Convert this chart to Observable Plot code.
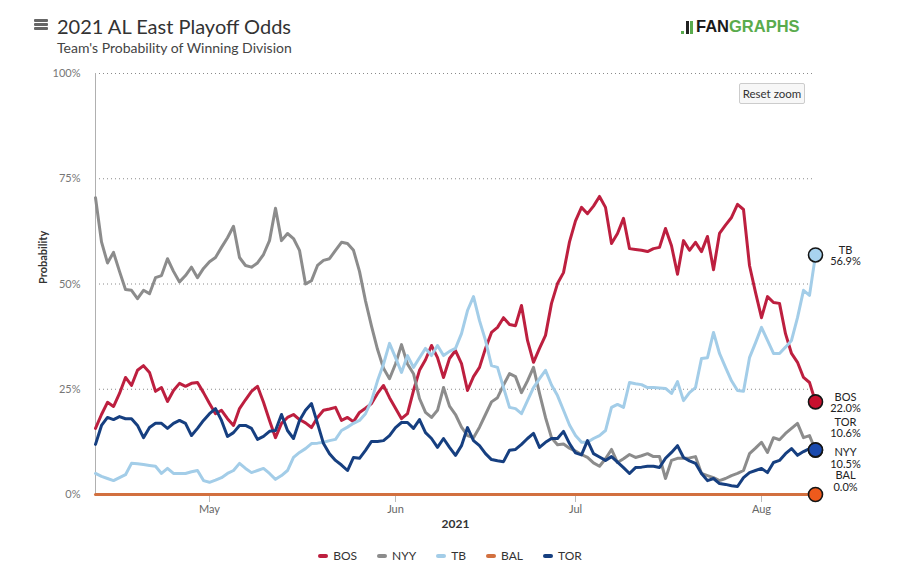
<!DOCTYPE html>
<html>
<head>
<meta charset="utf-8">
<script src="https://cdn.jsdelivr.net/npm/d3@7"></script>
<script src="https://cdn.jsdelivr.net/npm/@observablehq/plot@0.6"></script>
<style>
  html, body { margin: 0; padding: 0; background: #fff; }
  #page { position: relative; width: 900px; height: 566px; overflow: hidden; font-family: Lato, "Open Sans", sans-serif; }
  #header { position: relative; height: 62px; }
  .menu { position: absolute; left: 34px; width: 14px; height: 2.5px; background: #666; border-radius: 1px; }
  #title { position: absolute; left: 57px; top: 16px; font-size: 20px; line-height: 20px; color: #333; white-space: nowrap; }
  #subtitle { position: absolute; left: 57px; top: 41px; font-size: 14px; line-height: 14px; color: #444; white-space: nowrap; }
  #logo { position: absolute; left: 681px; top: 16px; height: 18px; display: flex; align-items: flex-end; font-family: "Liberation Sans", Arial, sans-serif; font-weight: 700; font-size: 16.5px; line-height: 16px; }
  #logo .b { display: inline-block; width: 3px; margin-right: 1.5px; }
  #reset { position: absolute; left: 739px; top: 83px; width: 64px; height: 19px; border: 1px solid #ccc; background: #f7f7f7; border-radius: 2px; font-size: 11.5px; line-height: 19px; text-align: center; color: #333; }
  #legend { position: absolute; left: 0; width: 900px; top: 550px; display: flex; justify-content: center; gap: 20px; font-size: 12px; line-height: 12px; color: #333; }
  #legend .item { display: flex; align-items: center; gap: 5px; }
  #legend .sw { width: 10px; height: 4px; border-radius: 2px; }
</style>
</head>
<body>
<div id="page">
  <div id="header">
    <div class="menu" style="top:19px"></div>
    <div class="menu" style="top:23px"></div>
    <div class="menu" style="top:27px"></div>
    <div id="title">2021 AL East Playoff Odds</div>
    <div id="subtitle">Team's Probability of Winning Division</div>
    <div id="logo">
      <span class="b" style="height:3px;background:#5aab4d"></span>
      <span class="b" style="height:13px;background:#222"></span>
      <span class="b" style="height:13px;background:#5aab4d;margin-right:3px"></span>
      <span style="color:#1a1a1a">FAN</span><span style="color:#5aab4d">GRAPHS</span>
    </div>
  </div>
  <div id="chart"></div>
  <div id="reset">Reset zoom</div>
  <div id="legend"></div>
</div>
<script>
// ---- data (daily, 2021-04-12 .. 2021-08-10), probability of winning division in % ----
const teams = ["BOS", "NYY", "TB", "BAL", "TOR"];
const lineColors = ["#bd1f3f", "#8c8c8c", "#a3cde8", "#d2703f", "#163f80"];
const dotColors = ["#c8102e", "#8c8c8c", "#a8d3ef", "#ee5a1c", "#1a4aae"];
const firstDay = "2021-04-12";
const lastDay = "2021-08-10";
const yTicks = [0, 25, 50, 75, 100];
const gridValues = [25, 50, 75, 100];
const monthTicks = ["2021-05-01", "2021-06-01", "2021-07-01", "2021-08-01"];
const yearLabel = "2021";
const yLabel = "Probability";

const bos = [
  15.7, 19, 21.9, 20.9, 24, 27.8, 25.9, 29.5, 30.6, 29,
  24.5, 25.4, 22.1, 24.7, 26.4, 25.7, 26.4, 26.6, 24.2, 21.6,
  19.2, 20, 18, 16.4, 20.4, 22.5, 24.5, 25.7, 21.9, 17.6,
  13.5, 16.9, 18.3, 19, 17.8, 17, 15.9, 18.3, 20, 20.3,
  20.7, 17.6, 18.3, 17.3, 19.5, 20.5, 21.6, 24, 25.9, 23,
  20.5, 18, 19.2, 24.7, 29.5, 32, 35.4, 32.5, 27.8, 32.3,
  34.2, 31.1, 24.7, 28, 30.2, 34.7, 38.5, 39.7, 42, 40.4,
  40.1, 44.9, 36.6, 31.4, 34.7, 37.8, 45.4, 50.1, 52.7, 60,
  65, 68.2, 66.7, 68.5, 70.8, 68.2, 59.6, 62, 65.6, 58.4,
  58.2, 58, 57.7, 58.4, 58.7, 63.2, 59.1, 52.3, 60.3, 58,
  59.9, 57.7, 61.3, 53.4, 62, 64, 65.8, 68.9, 67.7, 54.4,
  48, 42, 47, 45.6, 45.4, 38.2, 33.5, 31.4, 27.8, 26.6, 22.0
];
const nyy = [
  70.5, 60, 55, 57.5, 53, 48.7, 48.5, 46.5, 48.5, 47.7,
  51.5, 52, 56, 53, 50.5, 52, 54, 51.5, 53.7, 55.3,
  56.3, 58.7, 61, 63.7, 56.3, 54.4, 54, 55, 57, 60.3,
  68, 60.3, 62, 60.8, 58, 50, 50.8, 54.4, 55.6, 56,
  58, 59.9, 59.6, 58, 53, 46, 40, 34.5, 30, 27.5,
  31, 35.6, 31, 28.7, 22.8, 19.5, 18.3, 20, 25.4, 21,
  19, 16, 14, 13.5, 16, 19, 22, 23, 26, 28.7,
  28, 24.2, 27, 30.2, 24, 18.3, 13.5, 11.8, 12, 11,
  10.3, 9.5, 8.8, 7.5, 6.7, 8.5, 10.7, 7.6, 8.5, 9.5,
  8.8, 9.2, 9.7, 9, 9, 3.8, 8.1, 8.6, 8.6, 8.7,
  9, 5, 4.5, 4, 3.3, 3.8, 4.5, 5, 5.7, 9.7,
  11, 12.4, 10, 13.5, 13, 14.5, 15.7, 16.9, 13.5, 14, 10.5
];
const tb = [
  5, 4.3, 3.8, 3.3, 4, 4.7, 7.4, 7.3, 7.1, 6.9,
  6.7, 5, 6.2, 5, 5, 5, 5.4, 5.7, 3.3, 2.9,
  3.4, 4, 5, 5.7, 7.4, 6.2, 5.2, 5.7, 6.2, 5,
  3.6, 4.5, 5.7, 8.8, 10, 10.9, 12.1, 12.2, 12.4, 12.8,
  13.1, 15.2, 16, 16.9, 17.6, 19.2, 22.3, 27, 31, 35.9,
  32.5, 29, 33, 30.2, 32.5, 34.7, 33, 35.4, 33, 34,
  34.7, 38.2, 43.7, 47, 41.3, 36.6, 30.6, 30.2, 25.4, 20.7,
  20.4, 19.2, 22.3, 25.4, 27.5, 29.5, 26, 23.5, 20, 16.5,
  14, 12.4, 12.4, 13.3, 14, 15.2, 20.7, 21.4, 20.7, 26.6,
  26.3, 26.1, 25.4, 25.4, 25.3, 25.2, 24, 26.8, 22.3, 24.2,
  25.4, 32.3, 32.5, 38.5, 33.5, 30.2, 27, 24.7, 24.5, 32.5,
  36, 39.7, 36.6, 33.5, 33.5, 35, 36.6, 42, 48.5, 47.3, 56.9
];
const bal = [
  0, 0, 0, 0, 0, 0, 0, 0, 0, 0,
  0, 0, 0, 0, 0, 0, 0, 0, 0, 0,
  0, 0, 0, 0, 0, 0, 0, 0, 0, 0,
  0, 0, 0, 0, 0, 0, 0, 0, 0, 0,
  0, 0, 0, 0, 0, 0, 0, 0, 0, 0,
  0, 0, 0, 0, 0, 0, 0, 0, 0, 0,
  0, 0, 0, 0, 0, 0, 0, 0, 0, 0,
  0, 0, 0, 0, 0, 0, 0, 0, 0, 0,
  0, 0, 0, 0, 0, 0, 0, 0, 0, 0,
  0, 0, 0, 0, 0, 0, 0, 0, 0, 0,
  0, 0, 0, 0, 0, 0, 0, 0, 0, 0,
  0, 0, 0, 0, 0, 0, 0, 0, 0, 0, 0.0
];
const tor = [
  11.9, 16.4, 18.3, 17.8, 18.5, 18, 18, 16.4, 13.5, 15.9,
  16.9, 16.9, 15.7, 16.9, 17.6, 16.9, 14, 15.7, 17.6, 19.2,
  20.4, 17.6, 13.8, 14.7, 16.4, 16.4, 15.7, 13.1, 13.8, 15,
  15.2, 19, 15.2, 13.3, 17.6, 20, 21.6, 16.9, 12.1, 9.7,
  8.1, 7, 5.7, 8.8, 8.6, 10.5, 12.6, 12.6, 12.8, 14,
  15.9, 17.1, 17.1, 15.7, 17.8, 14.7, 13.3, 11.2, 13.3, 11.2,
  9.3, 11.6, 15.9, 12.8, 11.6, 9.7, 8.3, 8, 7.8, 10.5,
  10.7, 11.9, 13.3, 14.5, 11.2, 12.4, 13.3, 13.3, 15, 12.1,
  9.9, 9.4, 12.8, 9.7, 8.9, 8.1, 9, 7.7, 6.4, 5,
  6.4, 6.5, 6.7, 6.7, 6.4, 8.6, 10, 11.6, 8.8, 8,
  7.4, 5, 3.3, 3.8, 2.6, 2.4, 2.1, 1.9, 4, 5.2,
  5.7, 6.2, 5.2, 7.6, 8.1, 9.7, 10.9, 9.3, 10.2, 10.9, 10.6
];
// vertical offsets (px) so the end labels don't collide
const labelShift = [1, 8, 1, -13, -22];

// ---- build tables ----
const seriesValues = [bos, nyy, tb, bal, tor];
const dates = d3.utcDays(new Date(firstDay), d3.utcDay.offset(new Date(lastDay), 1));
const rows = [];
teams.forEach((team, i) => {
  seriesValues[i].forEach((v, j) => rows.push({team, date: dates[j], value: v}));
});
const ends = teams.map((team, i) => {
  const vals = seriesValues[i];
  return {team, date: dates[vals.length - 1], value: vals[vals.length - 1], fill: dotColors[i], dy: labelShift[i]};
});

const chart = Plot.plot({
  width: 900,
  height: 474,
  marginLeft: 95,
  marginRight: 85,
  marginTop: 11,
  marginBottom: 42,
  style: {fontFamily: "Lato, 'Open Sans', sans-serif", fontSize: "11px", color: "#666", background: "transparent", overflow: "visible"},
  x: {type: "utc", domain: [dates[0], dates[dates.length - 1]]},
  y: {domain: [0, 100]},
  color: {domain: teams, range: lineColors},
  marks: [
    Plot.ruleY(gridValues, {stroke: "#8a8a8a", strokeDasharray: "1,3", strokeWidth: 1}),
    Plot.ruleX([dates[0]], {stroke: "#b0b0b0", strokeWidth: 1}),
    Plot.axisY({ticks: yTicks, tickFormat: d => d + "%", tickSize: 0, tickPadding: 15, label: null, fill: "#777"}),
    Plot.axisX({ticks: monthTicks.map(s => new Date(s)), tickFormat: d3.utcFormat("%b"), tickSize: 8, tickPadding: 3, label: null, stroke: "#bbb", fill: "#666"}),
    Plot.text([yLabel], {frameAnchor: "left", dx: -52, rotate: -90, fontWeight: 700, fill: "#333", fontSize: 11}),
    Plot.text([yearLabel], {frameAnchor: "bottom", lineAnchor: "middle", dy: 30, fontWeight: 700, fill: "#333", fontSize: 12}),
    Plot.line(rows, {x: "date", y: "value", z: "team", stroke: "team", strokeWidth: 3, strokeLinejoin: "round", strokeLinecap: "round"}),
    ...ends.map(e => Plot.dot([e], {x: "date", y: "value", r: 7, fill: e.fill, stroke: "#151515", strokeWidth: 1.6})),
    ...ends.map(e => Plot.text([e], {x: "date", y: "value", text: d => `${d.team}\n${d.value.toFixed(1)}%`, dx: 30, dy: e.dy, lineHeight: 1.05, fill: "#222", fontSize: 11}))
  ]
});
document.getElementById("chart").appendChild(chart);

// legend
const legend = document.getElementById("legend");
teams.forEach((t, i) => {
  const item = document.createElement("div");
  item.className = "item";
  const sw = document.createElement("span");
  sw.className = "sw";
  sw.style.background = lineColors[i];
  const lab = document.createElement("span");
  lab.textContent = t;
  item.appendChild(sw);
  item.appendChild(lab);
  legend.appendChild(item);
});
</script>
</body>
</html>
